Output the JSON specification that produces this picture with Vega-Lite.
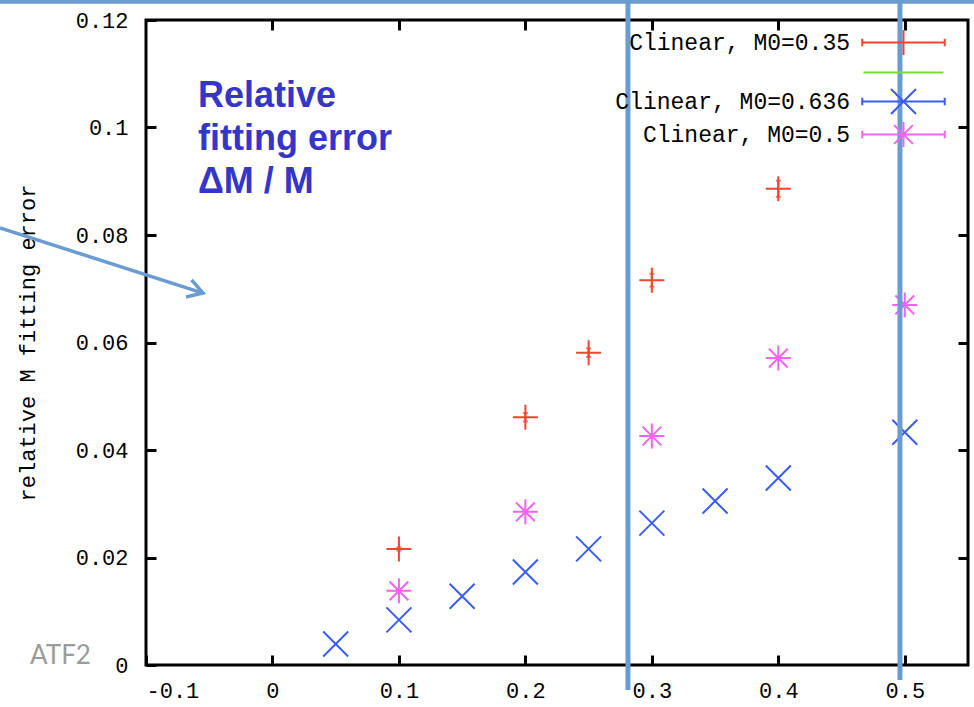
{
  "$schema": "https://vega.github.io/schema/vega-lite/v6.json",
  "width": 822,
  "height": 645,
  "autosize": "none",
  "padding": {"left": 146, "top": 20, "right": 6, "bottom": 42},
  "background": "white",
  "config": {
    "view": {"stroke": "#000", "strokeWidth": 3},
    "axis": {
      "grid": false, "domain": false, "tickColor": "#000", "tickWidth": 3, "tickSize": -10,
      "labelFont": "Liberation Mono", "labelFontSize": 22, "labelColor": "#000",
      "titleFont": "Liberation Mono", "titleFontSize": 22, "titleFontWeight": "normal", "titleColor": "#000"
    }
  },
  "datasets": {
    "pts": [
      {"series": "Clinear, M0=0.35", "x": 0.1, "y": 0.0216, "lo": 0.0213, "hi": 0.0219},
      {"series": "Clinear, M0=0.35", "x": 0.2, "y": 0.0461, "lo": 0.0453, "hi": 0.0469},
      {"series": "Clinear, M0=0.35", "x": 0.25, "y": 0.0581, "lo": 0.0573, "hi": 0.0589},
      {"series": "Clinear, M0=0.35", "x": 0.3, "y": 0.0716, "lo": 0.0704, "hi": 0.0728},
      {"series": "Clinear, M0=0.35", "x": 0.4, "y": 0.0886, "lo": 0.0871, "hi": 0.0901},
      {"series": "Clinear, M0=0.636", "x": 0.05, "y": 0.0039},
      {"series": "Clinear, M0=0.636", "x": 0.1, "y": 0.0084},
      {"series": "Clinear, M0=0.636", "x": 0.15, "y": 0.0128},
      {"series": "Clinear, M0=0.636", "x": 0.2, "y": 0.0173},
      {"series": "Clinear, M0=0.636", "x": 0.25, "y": 0.0216},
      {"series": "Clinear, M0=0.636", "x": 0.3, "y": 0.0264},
      {"series": "Clinear, M0=0.636", "x": 0.35, "y": 0.0305},
      {"series": "Clinear, M0=0.636", "x": 0.4, "y": 0.0348},
      {"series": "Clinear, M0=0.636", "x": 0.5, "y": 0.0433},
      {"series": "Clinear, M0=0.5", "x": 0.1, "y": 0.0138},
      {"series": "Clinear, M0=0.5", "x": 0.2, "y": 0.0285},
      {"series": "Clinear, M0=0.5", "x": 0.3, "y": 0.0426},
      {"series": "Clinear, M0=0.5", "x": 0.4, "y": 0.0571},
      {"series": "Clinear, M0=0.5", "x": 0.5, "y": 0.067}
    ],
    "overlay": [
      {"x": 0.2811, "y": 0.1237, "y2": -0.00465},
      {"x": 0.4962, "y": 0.1237, "y2": -0.0028}
    ],
    "topline": [{"x": -0.2155, "x2": 0.56, "y": 0.1234}],
    "arrow": [{"x": -0.2155, "y": 0.0813, "x2": -0.0549, "y2": 0.0692}],
    "note": [{"x": -0.0589, "y": 0.10381, "t": "Relative\nfitting error\nΔM / M"}],
    "atf": [{"x": -0.1917, "y": 0.0002, "t": "ATF2"}]
  },
  "layer": [
    {
      "data": {"name": "pts"},
      "mark": {"type": "point", "opacity": 0},
      "encoding": {
        "x": {"field": "x", "type": "quantitative", "scale": {"domain": [-0.1, 0.55], "nice": false, "zero": false},
              "axis": {"orient": "top", "labels": false, "title": null, "values": [0, 0.1, 0.2, 0.3, 0.4, 0.5]}},
        "y": {"field": "y", "type": "quantitative", "scale": {"domain": [0, 0.12], "nice": false, "zero": false},
              "axis": {"orient": "right", "labels": false, "title": null, "values": [0.02, 0.04, 0.06, 0.08, 0.1]}}
      }
    },
    {
      "data": {"name": "pts"},
      "transform": [{"filter": "isValid(datum.lo)"}],
      "mark": {"type": "errorbar", "ticks": true, "color": "#F0462E", "thickness": 2},
      "encoding": {
        "x": {"field": "x", "type": "quantitative", "scale": {"domain": [-0.1, 0.55], "nice": false, "zero": false}, "axis": null},
        "y": {"field": "lo", "type": "quantitative", "scale": {"domain": [0, 0.12], "nice": false, "zero": false}, "axis": null},
        "y2": {"field": "hi"}
      }
    },
    {
      "data": {"name": "pts"},
      "mark": {"type": "point", "filled": false, "strokeWidth": 2, "size": 625, "opacity": 1},
      "encoding": {
        "x": {"field": "x", "type": "quantitative", "scale": {"domain": [-0.1, 0.55], "nice": false, "zero": false},
              "axis": {"orient": "bottom", "title": null, "values": [-0.1, 0, 0.1, 0.2, 0.3, 0.4, 0.5], "labelPadding": 25,
                       "labelExpr": "replace(format(datum.value, '~g'), '−', '-')"}},
        "y": {"field": "y", "type": "quantitative", "scale": {"domain": [0, 0.12], "nice": false, "zero": false},
              "axis": {"orient": "left", "title": "relative M fitting error", "values": [0, 0.02, 0.04, 0.06, 0.08, 0.1, 0.12],
                       "labelPadding": 28, "titlePadding": 36, "labelExpr": "format(datum.value, '~g')"}},
        "shape": {"condition": [
                    {"test": "datum.series === 'Clinear, M0=0.35'", "value": "M-1,0H1M0,-1V1"},
                    {"test": "datum.series === 'Clinear, M0=0.636'", "value": "M-1,-1L1,1M-1,1L1,-1"}
                  ],
                  "value": "M-1,0H1M0,-1V1M-0.75,-0.75L0.75,0.75M-0.75,0.75L0.75,-0.75"},
        "color": {"field": "series", "type": "nominal",
                  "scale": {"domain": ["Clinear, M0=0.35", " ", "Clinear, M0=0.636", "Clinear, M0=0.5"],
                            "range": ["#F0462E", "#77DD33", "#3A5CF5", "#EE66EE"]},
                  "legend": {
                    "orient": "none", "legendX": 481, "legendY": 9, "title": null, "padding": 0,
                    "symbolSize": 625, "symbolStrokeWidth": 2, "symbolFillColor": "transparent",
                    "symbolType": {"expr": "datum.value === 'Clinear, M0=0.35' ? 'M-3.3,0H3.3M-3.3,-0.3V0.3M3.3,-0.3V0.3M0,-1V1' : datum.value === 'Clinear, M0=0.636' ? 'M-3.3,0H3.3M-3.3,-0.3V0.3M3.3,-0.3V0.3M-1,-1L1,1M-1,1L1,-1' : datum.value === 'Clinear, M0=0.5' ? 'M-3.3,0H3.3M-3.3,-0.3V0.3M3.3,-0.3V0.3M0,-1V1M-0.75,-0.75L0.75,0.75M-0.75,0.75L0.75,-0.75' : 'M-3.2,0H3.2'"},
                    "labelFont": "Liberation Mono", "labelFontSize": 23, "labelColor": "#000", "labelLimit": 400,
                    "labelAlign": "right", "labelOffset": -67, "symbolOffset": 263, "rowPadding": 0
                  }}
      }
    },
    {
      "data": {"name": "note"},
      "mark": {"type": "text", "align": "left", "baseline": "alphabetic", "font": "Liberation Sans", "fontWeight": "bold", "fontSize": 36, "lineHeight": 43, "lineBreak": "\n", "color": "#3535C8"},
      "encoding": {
        "x": {"field": "x", "type": "quantitative", "scale": {"domain": [-0.1, 0.55], "nice": false, "zero": false}, "axis": null},
        "y": {"field": "y", "type": "quantitative", "scale": {"domain": [0, 0.12], "nice": false, "zero": false}, "axis": null},
        "text": {"field": "t"}
      }
    },
    {
      "data": {"name": "atf"},
      "mark": {"type": "text", "align": "left", "baseline": "alphabetic", "font": "Lato", "fontSize": 26, "color": "#9B9B9B"},
      "encoding": {
        "x": {"field": "x", "type": "quantitative", "scale": {"domain": [-0.1, 0.55], "nice": false, "zero": false}, "axis": null},
        "y": {"field": "y", "type": "quantitative", "scale": {"domain": [0, 0.12], "nice": false, "zero": false}, "axis": null},
        "text": {"field": "t"}
      }
    },
    {
      "data": {"name": "arrow"},
      "mark": {"type": "rule", "color": "#6A9BD1", "strokeWidth": 3.5},
      "encoding": {
        "x": {"field": "x", "type": "quantitative", "scale": {"domain": [-0.1, 0.55], "nice": false, "zero": false}, "axis": null},
        "y": {"field": "y", "type": "quantitative", "scale": {"domain": [0, 0.12], "nice": false, "zero": false}, "axis": null},
        "x2": {"field": "x2"},
        "y2": {"field": "y2"}
      }
    },
    {
      "data": {"name": "arrow"},
      "mark": {"type": "point", "shape": "M-1,-0.6L0,0L-1,0.6", "filled": false, "size": 900, "angle": 17.8, "color": "#6A9BD1", "strokeWidth": 3.5, "opacity": 1},
      "encoding": {
        "x": {"field": "x2", "type": "quantitative", "scale": {"domain": [-0.1, 0.55], "nice": false, "zero": false}, "axis": null},
        "y": {"field": "y2", "type": "quantitative", "scale": {"domain": [0, 0.12], "nice": false, "zero": false}, "axis": null}
      }
    },
    {
      "data": {"name": "overlay"},
      "mark": {"type": "rule", "color": "#6A9BD1", "strokeWidth": 5},
      "encoding": {
        "x": {"field": "x", "type": "quantitative", "scale": {"domain": [-0.1, 0.55], "nice": false, "zero": false}, "axis": null},
        "y": {"field": "y", "type": "quantitative", "scale": {"domain": [0, 0.12], "nice": false, "zero": false}, "axis": null},
        "y2": {"field": "y2"}
      }
    },
    {
      "data": {"name": "topline"},
      "mark": {"type": "rule", "color": "#6A9BD1", "strokeWidth": 4},
      "encoding": {
        "x": {"field": "x", "type": "quantitative", "scale": {"domain": [-0.1, 0.55], "nice": false, "zero": false}, "axis": null},
        "y": {"field": "y", "type": "quantitative", "scale": {"domain": [0, 0.12], "nice": false, "zero": false}, "axis": null},
        "x2": {"field": "x2"}
      }
    }
  ],
  "resolve": {"axis": {"x": "independent", "y": "independent"}}
}
